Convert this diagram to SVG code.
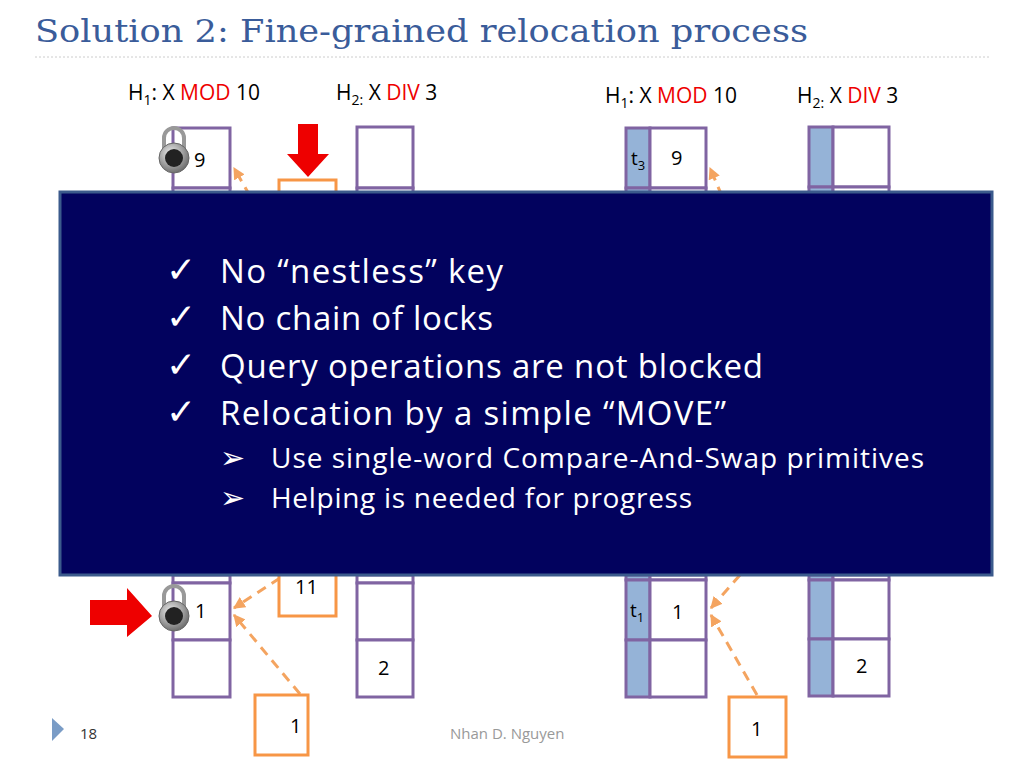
<svg xmlns="http://www.w3.org/2000/svg" width="1024" height="768" viewBox="0 0 1024 768">
<defs>
<style>
.t{font-family:"Open Sans","Liberation Sans",sans-serif;fill:#000}
.cell{fill:#fff;stroke:#8064a2;stroke-width:3}
.blue{fill:#95b3d7;stroke:#8064a2;stroke-width:3}
.ob{fill:#fff;stroke:#f79646;stroke-width:3}
.dash{stroke:#f4a460;stroke-width:3;stroke-dasharray:10,7;fill:none;marker-end:url(#ah)}
.red{fill:#e00}
</style>
<marker id="ah" viewBox="0 0 10 10" refX="9" refY="5" markerWidth="4" markerHeight="4" orient="auto"><path d="M0,0 L10,5 L0,10 Z" fill="#f4a460"/></marker>
<radialGradient id="lk" cx="0.4" cy="0.35" r="0.7"><stop offset="0" stop-color="#eee"/><stop offset="1" stop-color="#666"/></radialGradient>
<g id="lock"><path d="M-10,-8 V-20 A10,10 0 0 1 10,-20 V-8" fill="none" stroke="#999" stroke-width="4"/><circle r="15" fill="url(#lk)" stroke="#666"/><circle r="9" fill="#222"/></g>
</defs>
<rect width="1024" height="768" fill="#fff"/>
<text x="35" y="42" font-family="'DejaVu Serif',serif" font-size="31" fill="#3a5c9a" textLength="773" lengthAdjust="spacingAndGlyphs">Solution 2: Fine-grained relocation process</text>
<line x1="35" y1="57" x2="990" y2="57" stroke="#ccc" stroke-dasharray="2,2"/>
<g font-size="21" class="t">
<text x="128" y="100" class="t">H<tspan font-size="14" dy="5">1</tspan><tspan dy="-5">: X </tspan><tspan fill="#e00">MOD</tspan> 10</text>
<text x="336" y="100" class="t">H<tspan font-size="14" dy="5">2:</tspan><tspan dy="-5"> X </tspan><tspan fill="#e00">DIV</tspan> 3</text>
<text x="605" y="103" class="t">H<tspan font-size="14" dy="5">1</tspan><tspan dy="-5">: X </tspan><tspan fill="#e00">MOD</tspan> 10</text>
<text x="797" y="103" class="t">H<tspan font-size="14" dy="5">2:</tspan><tspan dy="-5"> X </tspan><tspan fill="#e00">DIV</tspan> 3</text>
</g>
<g id="connectors">
<line class="dash" x1="250" y1="196" x2="234" y2="168"/>
<line class="dash" x1="300" y1="694" x2="234" y2="615"/>
<line class="dash" x1="280" y1="578" x2="234" y2="608"/>
<line class="dash" x1="722" y1="196" x2="710" y2="168"/>
<line class="dash" x1="757" y1="695" x2="711" y2="615"/>
<line class="dash" x1="740" y1="575" x2="711" y2="608"/>
</g>
<g id="left-h1">
<rect class="cell" x="173" y="128" width="57" height="60"/><rect class="cell" x="173" y="188" width="57" height="10"/>
<rect class="cell" x="173" y="575" width="57" height="8"/>
<rect class="cell" x="173" y="583" width="57" height="57"/><rect class="cell" x="173" y="640" width="57" height="57"/>
<text class="t" x="194" y="167" font-size="20">9</text><text class="t" x="195" y="618" font-size="20">1</text>
</g>
<g id="left-h2">
<rect class="cell" x="357" y="127" width="56" height="61"/><rect class="cell" x="357" y="188" width="56" height="10"/>
<rect class="cell" x="357" y="575" width="56" height="8"/>
<rect class="cell" x="357" y="583" width="56" height="57"/><rect class="cell" x="357" y="640" width="56" height="57"/>
<text class="t" x="378" y="675" font-size="20">2</text>
</g>
<g id="left-orange">
<rect class="ob" x="279" y="180" width="57" height="20"/>
<rect class="ob" x="279" y="560" width="57" height="56"/><text class="t" x="295" y="594" font-size="20">11</text>
<rect class="ob" x="255" y="695" width="53" height="60"/><text class="t" x="290" y="733" font-size="20">1</text>
</g>
<path class="red" d="M298,124 H318 V154 H329 L308,177 L287,154 H298 Z"/>
<path class="red" d="M90,600 H127 V588 L152,616 L127,637 V625 H90 Z"/>
<use href="#lock" x="174" y="158"/><use href="#lock" x="174" y="616"/>
<g id="right-h1">
<rect class="blue" x="626" y="128" width="24" height="60"/><rect class="cell" x="650" y="128" width="56" height="60"/>
<rect class="blue" x="626" y="188" width="24" height="10"/><rect class="cell" x="650" y="188" width="56" height="10"/>
<rect class="blue" x="626" y="575" width="24" height="5"/><rect class="cell" x="650" y="575" width="56" height="5"/>
<rect class="blue" x="626" y="580" width="24" height="60"/><rect class="cell" x="650" y="580" width="56" height="60"/>
<rect class="blue" x="626" y="640" width="24" height="57"/><rect class="cell" x="650" y="640" width="56" height="57"/>
<text class="t" x="631" y="165" font-size="19">t<tspan font-size="13" dy="5">3</tspan></text>
<text class="t" x="671" y="165" font-size="20">9</text>
<text class="t" x="630" y="617" font-size="19">t<tspan font-size="13" dy="5">1</tspan></text>
<text class="t" x="672" y="619" font-size="20">1</text>
</g>
<g id="right-h2">
<rect class="blue" x="809" y="127" width="24" height="60"/><rect class="cell" x="833" y="127" width="56" height="60"/>
<rect class="blue" x="809" y="187" width="24" height="10"/><rect class="cell" x="833" y="187" width="56" height="10"/>
<rect class="blue" x="809" y="575" width="24" height="5"/><rect class="cell" x="833" y="575" width="56" height="5"/>
<rect class="blue" x="809" y="580" width="24" height="59"/><rect class="cell" x="833" y="580" width="56" height="59"/>
<rect class="blue" x="809" y="639" width="24" height="57"/><rect class="cell" x="833" y="639" width="56" height="57"/>
<text class="t" x="856" y="673" font-size="20">2</text>
</g>
<g id="right-orange">
<rect class="ob" x="729" y="697" width="57" height="60"/><text class="t" x="751" y="736" font-size="20">1</text>
</g>
<g id="panel">
<rect x="60" y="192" width="932" height="383" fill="#02025e" stroke="#3b5a8c" stroke-width="3"/>
<g font-family="'Open Sans','Liberation Sans',sans-serif" fill="#fff">
<g font-family="'DejaVu Sans',sans-serif" font-size="36" font-weight="bold"><text x="166" y="282">✓</text><text x="166" y="329">✓</text><text x="166" y="377">✓</text><text x="166" y="424">✓</text></g>
<text x="220" y="283" font-size="33" textLength="283">No “nestless” key</text>
<text x="220" y="330" font-size="33" textLength="273">No chain of locks</text>
<text x="220" y="378" font-size="33" textLength="543">Query operations are not blocked</text>
<text x="220" y="425" font-size="33" textLength="506">Relocation by a simple “MOVE”</text>
<text x="220" y="468" font-size="30" font-family="'DejaVu Sans',sans-serif">➢</text><text x="271" y="468" font-size="28" textLength="653">Use single-word Compare-And-Swap primitives</text>
<text x="220" y="508" font-size="30" font-family="'DejaVu Sans',sans-serif">➢</text><text x="271" y="508" font-size="28" textLength="421">Helping is needed for progress</text>
</g>
</g>
<path d="M52,718 L64,729 L52,741 Z" fill="#7a9cc6"/>
<text x="80" y="739" font-family="'Open Sans','Liberation Sans',sans-serif" font-size="15" fill="#333">18</text>
<text x="450" y="739" font-family="'Open Sans','Liberation Sans',sans-serif" font-size="15" fill="#999">Nhan D. Nguyen</text>
</svg>
